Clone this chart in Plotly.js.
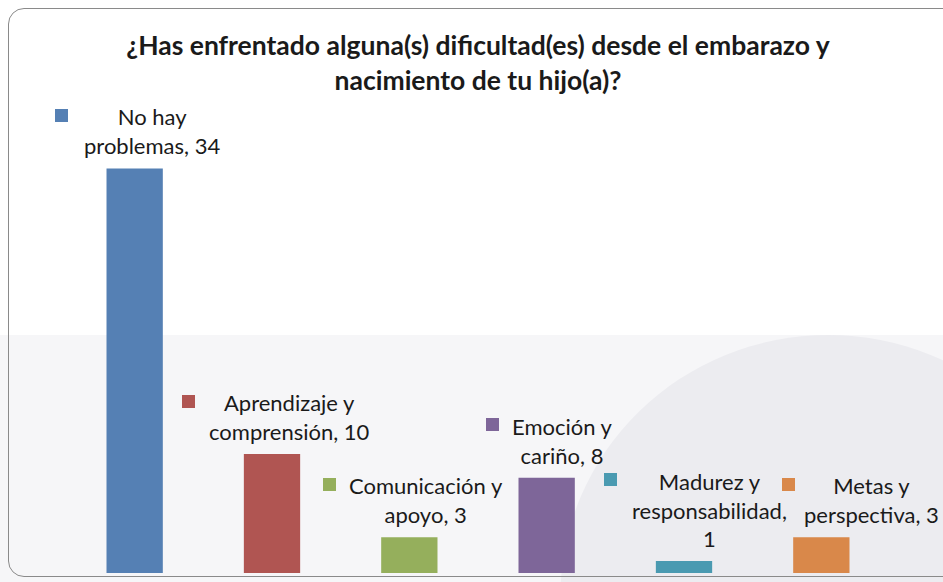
<!DOCTYPE html>
<html>
<head>
<meta charset="utf-8">
<script src="https://cdn.plot.ly/plotly-3.0.1.min.js"></script>
<style>
  html, body { margin: 0; padding: 0; background: #ffffff; }
  #wrap { position: relative; width: 943px; height: 582px; overflow: hidden; }
  #chart { position: absolute; left: 0; top: 0; width: 943px; height: 582px; }
  #frame { position: absolute; left: 8px; top: 8px; width: 980px; height: 567px;
           border: 1.5px solid #8a8a8a; border-radius: 16px; pointer-events: none; }
</style>
</head>
<body>
<div id="wrap">
  <div id="chart"></div>
  <div id="frame"></div>
</div>
<script>
const categories = ['No hay problemas', 'Aprendizaje y comprensión', 'Comunicación y apoyo',
                    'Emoción y cariño', 'Madurez y responsabilidad', 'Metas y perspectiva'];
const values = [34, 10, 3, 8, 1, 3];
const labelLines = [
  ['No hay', 'problemas, 34'],
  ['Aprendizaje y', 'comprensión, 10'],
  ['Comunicación y', 'apoyo, 3'],
  ['Emoción y', 'cariño, 8'],
  ['Madurez y', 'responsabilidad,', '1'],
  ['Metas y', 'perspectiva, 3']
];
const colors = ['#5580B4', '#B05552', '#95AF5C', '#7E6699', '#4A9AB1', '#D9884A'];

// label placement (styling, not data)
const labelSize = 22;
const lineH = labelSize * 1.3;
const textShift = [17, 17, 17, 16, 25, 50];
const keyShift = [-73, -84, -80, -54, -74, -33];

const annotations = [];
categories.forEach((c, i) => {
  const n = labelLines[i].length;
  annotations.push({
    x: c, y: values[i], xref: 'x', yref: 'y',
    text: labelLines[i].join('<br>'),
    showarrow: false, xanchor: 'center', yanchor: 'bottom',
    xshift: textShift[i], yshift: 7, align: 'center',
    font: { family: 'Lato, "Open Sans", sans-serif', size: labelSize, color: '#1a1a1a' }
  });
  annotations.push({
    x: c, y: values[i], xref: 'x', yref: 'y',
    text: ' ', showarrow: false, xanchor: 'center', yanchor: 'middle',
    xshift: keyShift[i], yshift: 7 + lineH * n - lineH / 2 + 3,
    width: 9, height: 9, bgcolor: colors[i], borderpad: 2, bordercolor: colors[i], borderwidth: 0,
    font: { size: 6 }
  });
});

const trace = {
  type: 'bar',
  x: categories,
  y: values,
  marker: { color: colors },
  width: 0.41,
  hoverinfo: 'x+y'
};

const layout = {
  width: 943, height: 582,
  margin: { l: 66, r: 53, t: 97, b: 9 },
  paper_bgcolor: '#ffffff',
  plot_bgcolor: 'rgba(0,0,0,0)',
  showlegend: false,
  title: {
    text: '¿Has enfrentado alguna(s) dificultad(es) desde el embarazo y<br>nacimiento de tu hijo(a)?',
    font: { family: 'Lato, "Open Sans", sans-serif', size: 26.5, color: '#1a1a1a', weight: 'bold' },
    x: 0.5, xref: 'paper', xanchor: 'center', y: 0.905, yanchor: 'top'
  },
  xaxis: { visible: false, range: [-0.5, 5.5], fixedrange: true },
  yaxis: { visible: false, range: [0, 40], fixedrange: true },
  annotations: annotations,
  shapes: [
    { type: 'rect', xref: 'paper', yref: 'paper', x0: -0.1, x1: 1.1, y0: -0.05, y1: 0.5,
      fillcolor: '#f6f6f8', line: { width: 0 }, layer: 'below' },
    { type: 'circle', xref: 'paper', yref: 'paper', x0: 0.6, x1: 1.25, y0: -0.6, y1: 0.5,
      fillcolor: '#ececf0', line: { width: 0 }, layer: 'below' }
  ]
};

Plotly.newPlot('chart', [trace], layout, { displayModeBar: false, staticPlot: true });
</script>
</body>
</html>
